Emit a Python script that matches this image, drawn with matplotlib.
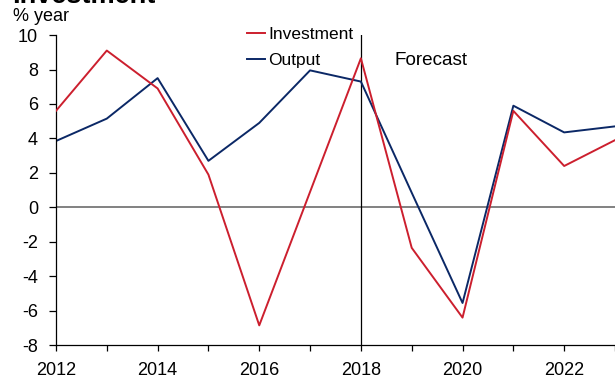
import matplotlib.pyplot as plt

years = list(range(2012, 2024))
investment = [5.6, 9.1, 6.9, 1.9, -6.85, 0.9, 8.65, -2.35, -6.4, 5.6, 2.4, 3.9]
output = [3.85, 5.15, 7.5, 2.7, 4.9, 7.95, 7.3, 0.85, -5.55, 5.9, 4.35, 4.7]
year_labels = ["2012", "", "2014", "", "2016", "", "2018", "", "2020", "", "2022", ""]
y_ticks = list(range(-8, 11, 2))

red = "#CC1F2E"
navy = "#0B2866"

plt.rcParams["font.family"] = ["Liberation Sans", "DejaVu Sans"]
plt.rcParams["font.size"] = 13
plt.rcParams["axes.unicode_minus"] = False

fig = plt.figure(figsize=(6.15, 3.81), dpi=100)
ax = fig.add_axes([0.091, 0.094, 0.909, 0.814])

ax.axhline(0, color="#777777", lw=1.3, zorder=1)
ax.axvline(2018, color="black", lw=0.9, zorder=1)
ax.plot(years, investment, color=red, lw=1.4, label="Investment", zorder=3)
ax.plot(years, output, color=navy, lw=1.4, label="Output", zorder=2)

ax.set_xlim(2012, 2023)
ax.set_ylim(-8, 10)
ax.set_xticks(years)
ax.set_xticklabels(year_labels)
ax.set_yticks(y_ticks)
for side in ["top", "right"]:
    ax.spines[side].set_visible(False)
ax.spines["left"].set_linewidth(0.9)
ax.spines["bottom"].set_linewidth(0.9)
ax.tick_params(axis="y", direction="out", length=5, width=0.9, pad=8)
ax.tick_params(axis="x", direction="out", length=4, width=0.9, pad=8)

ax.text(2018.67, 8.55, "Forecast", fontsize=13.6, va="center", ha="left")

leg = ax.legend(loc="upper left", bbox_to_anchor=(0.342, 1.025), frameon=False,
                fontsize=12.5, borderpad=0, borderaxespad=0, handlelength=1.0,
                handletextpad=0.2, labelspacing=0.6)

fig.text(0.02, 0.992, "Investment", fontsize=19.5, fontweight="bold", va="baseline", ha="left")
fig.text(0.021, 0.945, "% year", va="baseline", ha="left")

fig.savefig("out.png", dpi=100)
